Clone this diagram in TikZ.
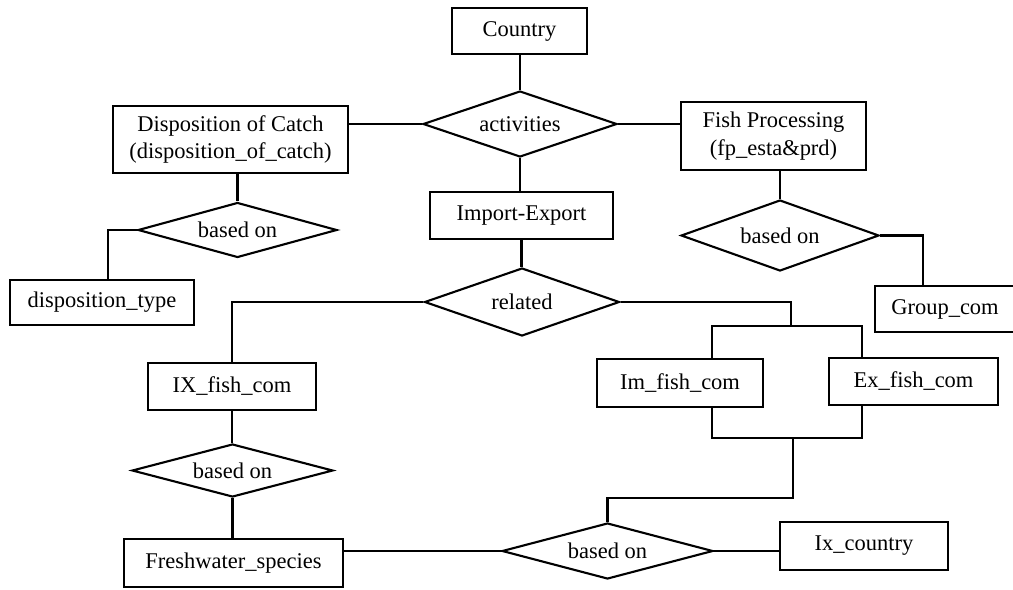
\documentclass[tikz,border=0pt]{standalone}
\usepackage{fontspec}
\setmainfont{Liberation Serif}
\usetikzlibrary{shapes.geometric}
\begin{document}
\begin{tikzpicture}[x=0.02cm,y=-0.02cm,
  line width=1.2pt,
  ent/.style={draw, line width=1.2pt, inner sep=0pt, align=center,
    font=\fontsize{12.8}{15.5}\selectfont},
  relship/.style={draw, diamond, aspect=3.6, inner sep=0pt, line width=1.2pt,
    font=\fontsize{12.8}{15.5}\selectfont},
  line join=miter]
\useasboundingbox (0,0) rectangle (1013,589);
\clip (0,0) rectangle (1013,589);

% entities
\node[ent, minimum width=2.7cm, minimum height=0.92cm] (country) at (519.5,31) {Country};
\node[ent, minimum width=4.7cm, minimum height=1.34cm] (disp) at (230.5,139.5) {Disposition of Catch\\(disposition\_of\_catch)};
\node[ent, minimum width=3.7cm, minimum height=1.36cm] (fp) at (773.5,136) {Fish Processing\\(fp\_esta\&prd)};
\node[ent, minimum width=3.66cm, minimum height=0.94cm] (ie) at (521.5,215.5) {Import-Export};
\node[ent, minimum width=3.68cm, minimum height=0.9cm] (dtype) at (102,302.5) {disposition\_type};
\node[ent, minimum width=2.8cm, minimum height=0.92cm] (group) at (945,309) {Group\_com};
\node[ent, minimum width=3.36cm, minimum height=0.94cm] (ix) at (232,386.5) {IX\_fish\_com};
\node[ent, minimum width=3.32cm, minimum height=0.96cm] (im) at (680,383) {Im\_fish\_com};
\node[ent, minimum width=3.38cm, minimum height=0.94cm] (ex) at (913.5,381.5) {Ex\_fish\_com};
\node[ent, minimum width=4.38cm, minimum height=0.96cm] (fw) at (233.5,563) {Freshwater\_species};
\node[ent, minimum width=3.36cm, minimum height=0.96cm] (ixc) at (864,546) {Ix\_country};

% relationships
\node[relship, minimum width=3.88cm, minimum height=1.32cm] (act) at (520,124) {activities};
\node[relship, minimum width=3.98cm, minimum height=1.1cm] (b1) at (237.5,230) {based on};
\node[relship, minimum width=3.96cm, minimum height=1.42cm] (b2) at (780,235.5) {based on};
\node[relship, minimum width=3.9cm, minimum height=1.36cm] (rel) at (522,302) {related};
\node[relship, minimum width=4.02cm, minimum height=1.06cm] (b3) at (232.5,470.5) {based on};
\node[relship, minimum width=4.22cm, minimum height=1.12cm] (b4) at (607.5,551) {based on};

% junctions
\coordinate (jt) at (791,326);
\coordinate (jb) at (793,438);
\coordinate (jm) at (793,498);

% connectors
\draw (act.north) -- (act.north |- country.south);
\draw (act.west) -- (act.west -| disp.east);
\draw (act.east) -- (act.east -| fp.west);
\draw (act.south) -- (act.south |- ie.north);
\draw (b1.north) -- (b1.north |- disp.south);
\draw (b1.west) -| ([xshift=0.12cm]dtype.north);
\draw (b2.north) -- (b2.north |- fp.south);
\draw (b2.east) -| ([xshift=-0.44cm]group.north);
\draw (ie.south) -- (ie.south |- rel.north);
\draw (rel.west) -| (ix.north);
\draw (ix.south) -- (ix.south |- b3.north);
\draw (b3.south) -- (b3.south |- fw.north);
\draw (b4.west) -- (b4.west -| fw.east);
\draw (b4.east) -- (b4.east -| ixc.west);
\draw (rel.east) -| (jt);
\draw ([xshift=0.64cm]im.north) |- (jt) -| ([xshift=-1.03cm]ex.north);
\draw ([xshift=0.64cm]im.south) |- (jb) -| ([xshift=-1.03cm]ex.south);
\draw (jb) -- (jm) -| (b4.north);
\end{tikzpicture}
\end{document}
